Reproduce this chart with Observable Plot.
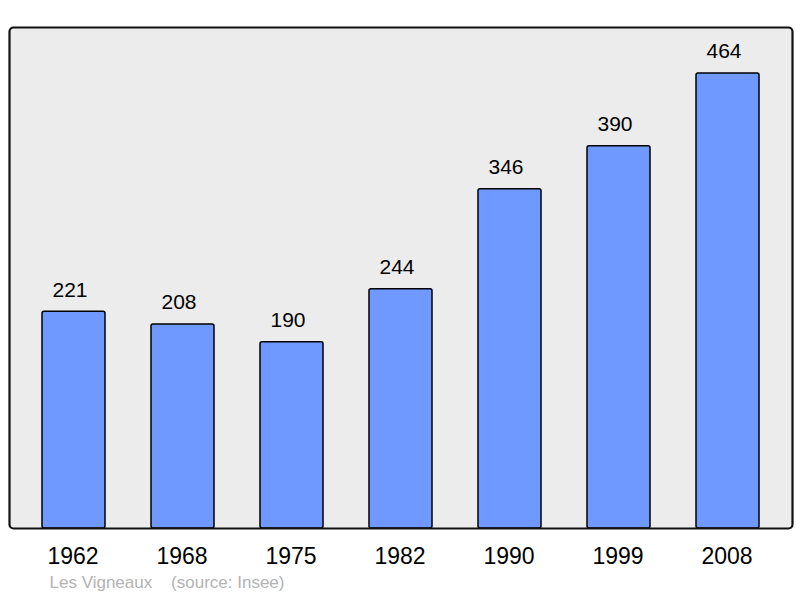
<!DOCTYPE html>
<html>
<head>
<meta charset="utf-8">
<script src="https://cdn.jsdelivr.net/npm/d3@7"></script>
<script src="https://cdn.jsdelivr.net/npm/@observablehq/plot@0.6"></script>
<style>
body { margin: 0; background: #fff; }
</style>
</head>
<body>
<div id="chart"></div>
<script>
const years = ["1962", "1968", "1975", "1982", "1990", "1999", "2008"];
const population = [221, 208, 190, 244, 346, 390, 464];
const caption = "Les Vigneaux    (source: Insee)";

const data = years.map((y, i) => ({year: y, pop: population[i]}));

const chart = Plot.plot({
  width: 800,
  height: 598,
  marginLeft: 9,
  marginRight: 8,
  marginTop: 27,
  marginBottom: 70,
  style: {fontFamily: "'Liberation Sans', Arial, sans-serif", background: "#fff", overflow: "visible"},
  x: {domain: years, paddingInner: 0.424, paddingOuter: 0.29, label: null},
  y: {domain: [0, 511], axis: null},
  marks: [
    Plot.frame({fill: "#ececec", stroke: "none", rx: 4}),
    Plot.barY(data, {x: "year", y: "pop", fill: "#7099ff", stroke: "#000", strokeWidth: 1.5, rx: 2, inset: 0}),
    Plot.text(data, {x: "year", y: "pop", text: d => String(d.pop), dy: -22, dx: -4, fontSize: 21, fill: "#000"}),
    Plot.frame({stroke: "#111", strokeWidth: 2.2, rx: 4, fill: "none"}),
    Plot.axisX({tickSize: 0, tickPadding: 19, fontSize: 23, fill: "#000", label: null, dx: -1}),
    Plot.text([caption], {frameAnchor: "bottom-left", text: d => d, dx: 40, dy: 59, fontSize: 17, fill: "#b3b3b3", textAnchor: "start"})
  ]
});
document.getElementById("chart").appendChild(chart);
</script>
</body>
</html>
